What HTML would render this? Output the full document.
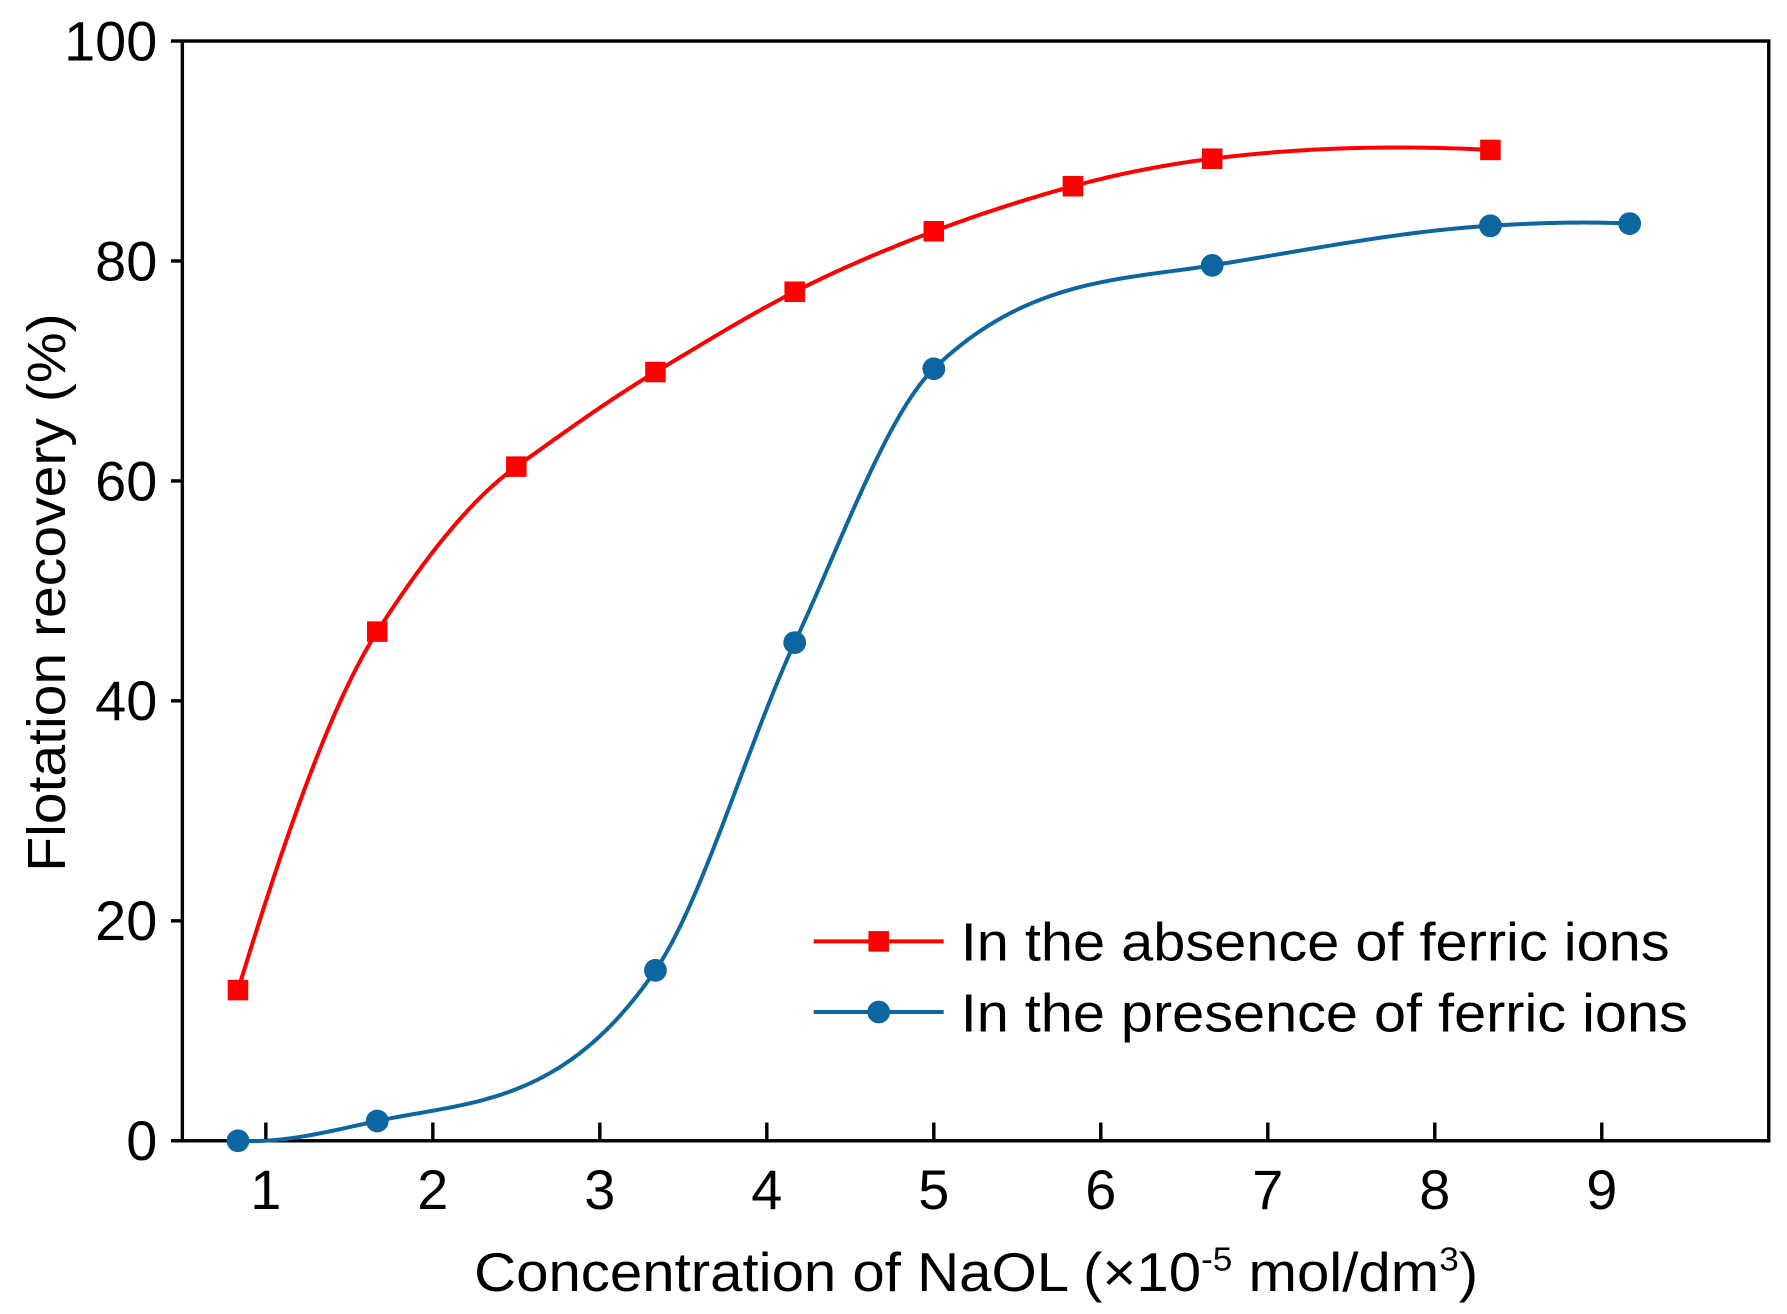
<!DOCTYPE html>
<html><head><meta charset="utf-8"><style>
html,body{margin:0;padding:0;background:#fff;}
svg{display:block;}
text{font-family:"Liberation Sans",Arial,sans-serif;fill:#000;}
</style></head><body>
<svg id="chart" width="1787" height="1314" viewBox="0 0 1568 1153" preserveAspectRatio="none" xmlns="http://www.w3.org/2000/svg">
<rect x="0" y="0" width="1568" height="1153" fill="#fff"/>
<g id="axes"></g>
<g id="series"></g>
<g id="legend">
 <g>
  <line x1="714" y1="826" x2="828" y2="826" stroke="#ff0000" stroke-width="3.5"/>
  <rect x="762" y="817" width="18" height="18" fill="#ff0000"/>
  <text x="843" y="843" font-size="47" textLength="622" lengthAdjust="spacingAndGlyphs">In the absence of ferric ions</text>
 </g>
 <g>
  <line x1="714" y1="888" x2="828" y2="888" stroke="#0e66a0" stroke-width="3.5"/>
  <circle cx="771" cy="888" r="10" fill="#0e66a0"/>
  <text x="843" y="905" font-size="47" textLength="638" lengthAdjust="spacingAndGlyphs">In the presence of ferric ions</text>
 </g>
</g>
<text x="416" y="1133" font-size="48" textLength="881" lengthAdjust="spacingAndGlyphs">Concentration of NaOL (×10<tspan dy="-18" font-size="29">-5</tspan><tspan dy="18"> mol/dm</tspan><tspan dy="-18" font-size="29">3</tspan><tspan dy="18">)</tspan></text>
<text transform="translate(57,520) rotate(-90)" font-size="47" text-anchor="middle" textLength="490" lengthAdjust="spacingAndGlyphs">Flotation recovery (%)</text>
</svg>
<script>
const xTicks = [1,2,3,4,5,6,7,8,9];
const yTicks = [0,20,40,60,80,100];
const redX = [0.833,1.667,2.5,3.333,4.167,5,5.833,6.667,8.333];
const redY = [13.7,46.3,61.3,69.9,77.2,82.7,86.8,89.3,90.1];
const blueX = [0.833,1.667,3.333,4.167,5,6.667,8.333,9.167];
const blueY = [0,1.8,15.5,45.3,70.2,79.6,83.2,83.4];

var L=160,R=1552,T=36,B=1001,X0=0.5,X1=10,Y0=0,Y1=100;
function sx(v){return L+(v-X0)/(X1-X0)*(R-L);}
function sy(v){return B-(v-Y0)/(Y1-Y0)*(B-T);}
var NS='http://www.w3.org/2000/svg';
function mk(tag,attrs,parent){var e=document.createElementNS(NS,tag);for(var k in attrs)e.setAttribute(k,attrs[k]);parent.appendChild(e);return e;}
var axes=document.getElementById('axes');
var frame=mk('rect',{x:L,y:T,width:R-L,height:B-T,fill:'none',stroke:'#000','stroke-width':3},axes);


xTicks.forEach(function(t){
  var ln=mk('line',{x1:sx(t),x2:sx(t),y1:B,y2:B-16,stroke:'#000','stroke-width':3},axes);
  
  
  var tx=mk('text',{x:sx(t),y:B+60,'font-size':49,'text-anchor':'middle'},axes);
  tx.textContent=String(t);
  
  
});
yTicks.forEach(function(t){
  var ln=mk('line',{x1:L-10,x2:L,y1:sy(t),y2:sy(t),stroke:'#000','stroke-width':3},axes);
  
  
  var tx=mk('text',{x:L-22,y:sy(t)+17,'font-size':49,'text-anchor':'end'},axes);
  tx.textContent=String(t);
  
  
});
function akima(xs,ys){
  var n=xs.length,m=[],i;
  for(i=0;i<n-1;i++)m[i+2]=(ys[i+1]-ys[i])/(xs[i+1]-xs[i]);
  m[1]=2*m[2]-m[3];m[0]=2*m[1]-m[2];
  m[n+1]=2*m[n]-m[n-1];m[n+2]=2*m[n+1]-m[n];
  var t=[];
  for(i=0;i<n;i++){
    var a=Math.abs(m[i+3]-m[i+2]),b=Math.abs(m[i+1]-m[i]);
    t[i]=(a+b<1e-9)?(m[i+1]+m[i+2])/2:(a*m[i+1]+b*m[i+2])/(a+b);
  }
  var d='';
  for(i=0;i<n-1;i++){
    var h=xs[i+1]-xs[i];
    for(var k=0;k<=40;k++){
      var s=k/40,s2=s*s,s3=s2*s;
      var y=(2*s3-3*s2+1)*ys[i]+(s3-2*s2+s)*h*t[i]+(-2*s3+3*s2)*ys[i+1]+(s3-s2)*h*t[i+1];
      var x=xs[i]+s*h;
      d+=(d===''?'M':'L')+sx(x).toFixed(2)+','+sy(y).toFixed(2);
    }
  }
  return d;
}
var g=document.getElementById('series');
var rl=mk('path',{d:akima(redX,redY),fill:'none',stroke:'#ff0000','stroke-width':3.5,'stroke-linejoin':'round'},g);


var bl=mk('path',{d:akima(blueX,blueY),fill:'none',stroke:'#0e66a0','stroke-width':3.5,'stroke-linejoin':'round'},g);


redX.forEach(function(x,i){
  var r=mk('rect',{x:sx(x)-9,y:sy(redY[i])-9,width:18,height:18,fill:'#ff0000'},g);
  
  
});
blueX.forEach(function(x,i){
  var c=mk('circle',{cx:sx(x),cy:sy(blueY[i]),r:10,fill:'#0e66a0'},g);
  
  
});
</script>
</body></html>
